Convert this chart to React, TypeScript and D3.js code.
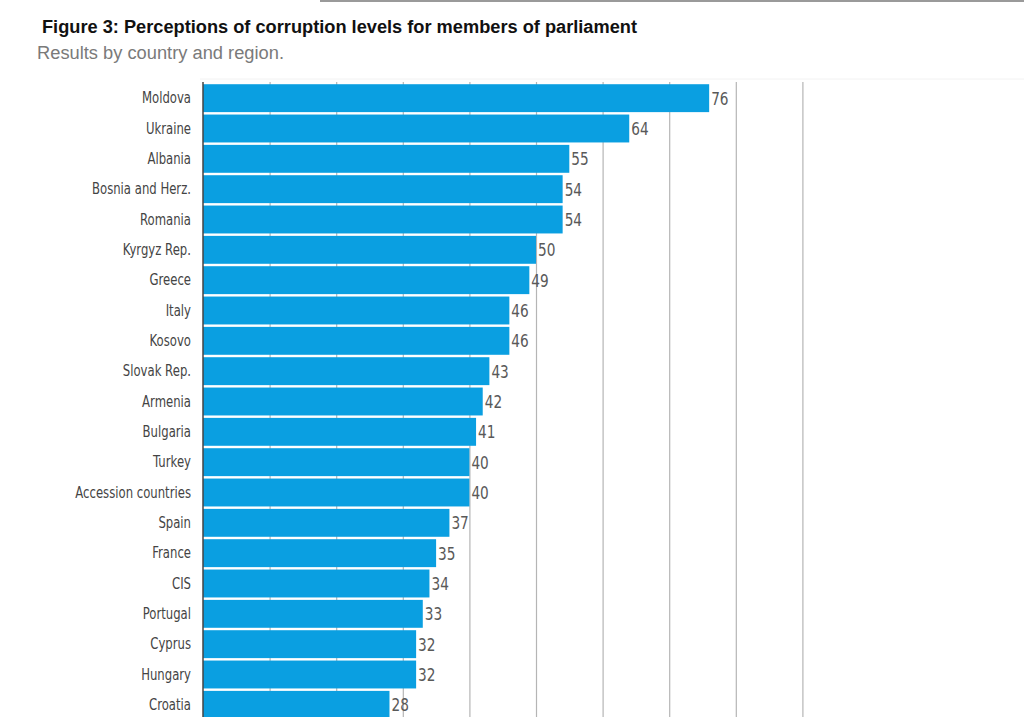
import { useEffect, useRef } from 'react';
import * as d3 from 'd3';

const countries = [
  'Moldova', 'Ukraine', 'Albania', 'Bosnia and Herz.', 'Romania', 'Kyrgyz Rep.',
  'Greece', 'Italy', 'Kosovo', 'Slovak Rep.', 'Armenia', 'Bulgaria', 'Turkey',
  'Accession countries', 'Spain', 'France', 'CIS', 'Portugal', 'Cyprus', 'Hungary', 'Croatia',
];
const scores = [76, 64, 55, 54, 54, 50, 49, 46, 46, 43, 42, 41, 40, 40, 37, 35, 34, 33, 32, 32, 28];
const gridTicks = [10, 20, 30, 40, 50, 60, 70, 80, 90];

const W = 1024;
const H = 717;
const labelFont = '"DejaVu Sans", sans-serif';
// no condensed face installed, so squeeze glyphs horizontally
const catSquash = 0.73;
const valSquash = 0.76;

export default function App() {
  const svgRef = useRef<SVGSVGElement>(null);

  useEffect(() => {
    const svg = d3.select(svgRef.current);
    svg.selectAll('*').remove();

    const data = countries.map((c, i) => ({ name: c, value: scores[i] }));

    const top = 82;
    const left = 203;
    const x = d3.scaleLinear().domain([0, 90]).range([left, left + 90 * 6.66]);
    const y = d3.scaleBand()
      .domain(countries)
      .range([83, 720])
      .paddingInner(0.08)
      .paddingOuter(0.04);

    // page rule at the very top
    svg.append('line')
      .attr('x1', 320).attr('x2', W)
      .attr('y1', 1).attr('y2', 1)
      .attr('stroke', '#9a9a9a').attr('stroke-width', 2);

    // faint frame line above the plot
    svg.append('line')
      .attr('x1', 200).attr('x2', W)
      .attr('y1', 79).attr('y2', 79)
      .attr('stroke', '#f2f2f2').attr('stroke-width', 1);

    svg.append('text')
      .attr('x', 42).attr('y', 33)
      .attr('font-family', '"Liberation Sans", Arial, sans-serif')
      .attr('font-weight', 'bold')
      .attr('font-size', 18)
      .attr('textLength', 595)
      .attr('lengthAdjust', 'spacingAndGlyphs')
      .attr('fill', '#111')
      .text('Figure 3: Perceptions of corruption levels for members of parliament');

    svg.append('text')
      .attr('x', 37).attr('y', 59)
      .attr('font-family', '"Liberation Sans", Arial, sans-serif')
      .attr('font-size', 18)
      .attr('textLength', 247)
      .attr('lengthAdjust', 'spacingAndGlyphs')
      .attr('fill', '#7a7a7a')
      .text('Results by country and region.');

    // vertical gridlines
    const grid = svg.append('g')
      .attr('transform', `translate(0,${top})`)
      .call(d3.axisTop(x).tickValues(gridTicks).tickSize(-(H - top)).tickFormat(() => ''));
    grid.select('.domain').remove();
    grid.selectAll('.tick line').attr('stroke', '#b5b5b5').attr('stroke-width', 1.2);

    svg.append('g')
      .selectAll('rect')
      .data(data)
      .enter().append('rect')
      .attr('x', x(0))
      .attr('y', d => y(d.name)!)
      .attr('width', d => x(d.value) - x(0))
      .attr('height', y.bandwidth())
      .attr('fill', '#0a9fe1');

    svg.append('g')
      .selectAll('text')
      .data(data)
      .enter().append('text')
      .attr('transform', d =>
        `translate(${x(d.value) + 2},${y(d.name)! + y.bandwidth() / 2}) scale(${valSquash},1)`)
      .attr('dy', '0.36em')
      .attr('font-family', labelFont)
      .attr('font-size', 18)
      .attr('fill', '#595959')
      .text(d => d.value);

    const yAxis = svg.append('g')
      .attr('transform', `translate(${left},0)`)
      .call(d3.axisLeft(y).tickSize(0).tickPadding(12));
    yAxis.select('.domain')
      .attr('d', `M0,${top}V${H}`)
      .attr('stroke', '#444')
      .attr('stroke-width', 1.5);
    yAxis.selectAll('.tick text')
      .attr('x', -12 / catSquash)
      .attr('transform', `scale(${catSquash},1)`)
      .attr('font-family', labelFont)
      .attr('font-size', 16)
      .attr('fill', '#444');
  }, []);

  return (
    <svg
      ref={svgRef}
      width={W}
      height={H}
      style={{ position: 'absolute', left: 0, top: 0, background: '#fff' }}
    />
  );
}
